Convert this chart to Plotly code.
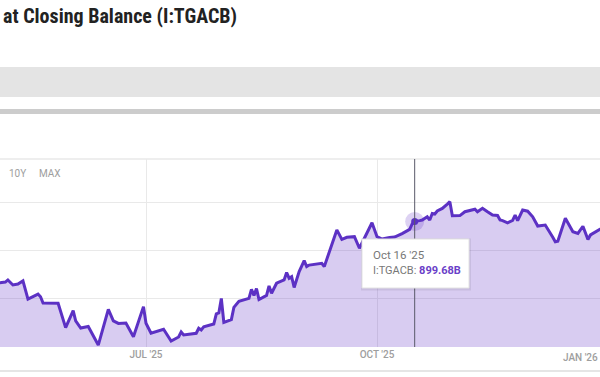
import plotly.graph_objects as go

dates = [
    "2025-05-03", "2025-05-06", "2025-05-07", "2025-05-09", "2025-05-11", "2025-05-13",
    "2025-05-15", "2025-05-19", "2025-05-20", "2025-05-21", "2025-05-27", "2025-05-30",
    "2025-06-02", "2025-06-03", "2025-06-05", "2025-06-08", "2025-06-12", "2025-06-16",
    "2025-06-18", "2025-06-20", "2025-06-23", "2025-06-26", "2025-06-30", "2025-07-01",
    "2025-07-03", "2025-07-08", "2025-07-11", "2025-07-14", "2025-07-15", "2025-07-16",
    "2025-07-21", "2025-07-22", "2025-07-23", "2025-07-24", "2025-07-28", "2025-07-29",
    "2025-07-30", "2025-07-31", "2025-08-01", "2025-08-04", "2025-08-05", "2025-08-07",
    "2025-08-11", "2025-08-12", "2025-08-13", "2025-08-14", "2025-08-15", "2025-08-18",
    "2025-08-19", "2025-08-20", "2025-08-22", "2025-08-25", "2025-08-26", "2025-08-27",
    "2025-08-28", "2025-08-29", "2025-08-31", "2025-09-02", "2025-09-03", "2025-09-04",
    "2025-09-09", "2025-09-10", "2025-09-15", "2025-09-17", "2025-09-19", "2025-09-22",
    "2025-09-24", "2025-09-29", "2025-10-01", "2025-10-03", "2025-10-06", "2025-10-08",
    "2025-10-11", "2025-10-14", "2025-10-15", "2025-10-16", "2025-10-18", "2025-10-19",
    "2025-10-21", "2025-10-22", "2025-10-23", "2025-10-24", "2025-10-25", "2025-10-27",
    "2025-10-29", "2025-10-30", "2025-10-31", "2025-11-03", "2025-11-05", "2025-11-07",
    "2025-11-09", "2025-11-10", "2025-11-12", "2025-11-14", "2025-11-16", "2025-11-18",
    "2025-11-19", "2025-11-20", "2025-11-22", "2025-11-24", "2025-11-25", "2025-11-26",
    "2025-11-28", "2025-11-30", "2025-12-02", "2025-12-04", "2025-12-07", "2025-12-10",
    "2025-12-11", "2025-12-12", "2025-12-15", "2025-12-18", "2025-12-20", "2025-12-22",
    "2025-12-24", "2025-12-25", "2025-12-29", "2025-12-31",
]
balance_b = [
    581, 586, 597, 571, 576, 592,
    498, 524, 510, 478, 476, 350,
    438, 385, 348, 356, 260, 445,
    385, 372, 374, 303, 459, 373,
    321, 342, 281, 302, 328, 312,
    321, 347, 338, 354, 369, 421,
    426, 501, 377, 392, 455, 486,
    502, 548, 517, 553, 496, 517,
    566, 528, 580, 597, 635, 606,
    614, 558, 640, 697, 666, 674,
    683, 666, 856, 807, 818, 821,
    761, 893, 821, 809, 817, 819,
    837, 859, 887, 899.68, 904, 907,
    924, 907, 941, 938, 954, 967,
    990, 1002, 929, 930, 950, 957,
    963, 950, 968, 950, 933, 931,
    907, 904, 893, 905, 933, 904,
    959, 953, 924, 876, 881, 818,
    795, 798, 916, 847, 838, 875,
    806, 830, 859, 876,
]
tick_dates = ["2025-07-01", "2025-10-01"]
tick_labels = ["JUL '25", "OCT '25"]
next_tick_label = "JAN '26"
hover_date = "2025-10-16"
hover_label = "Oct 16 '25"
series_name = "I:TGACB"
title_text = "at Closing Balance (I:TGACB)"
range_buttons = ["10Y", "MAX"]

LINE = "#5c31c4"
FILL = "rgba(98,52,200,0.25)"
GRID = "#e9e9e9"
H = 377
T, B = 159, 30
PH = H - T - B


def py(p):
    return (H - B - p) / PH


hv = balance_b[dates.index(hover_date)]

fig = go.Figure()
fig.add_trace(go.Scatter(
    x=dates, y=balance_b, mode="lines",
    line=dict(color=LINE, width=3),
    fill="tozeroy", fillcolor=FILL, hoverinfo="skip",
))
fig.add_trace(go.Scatter(
    x=[hover_date], y=[hv], mode="markers",
    marker=dict(size=19, color="rgba(98,52,200,0.22)"), hoverinfo="skip",
))
fig.add_trace(go.Scatter(
    x=[hover_date], y=[hv], mode="markers",
    marker=dict(size=7, color=LINE), hoverinfo="skip",
))

shapes = [
    dict(type="rect", xref="paper", yref="paper", x0=0, x1=1, y0=py(97), y1=py(67),
         fillcolor="#e4e4e4", line=dict(width=0), layer="below"),
    dict(type="rect", xref="paper", yref="paper", x0=0, x1=1, y0=py(114), y1=py(109),
         fillcolor="#cccccc", line=dict(width=0), layer="below"),
    dict(type="line", xref="paper", yref="paper", x0=0, x1=1, y0=1, y1=1,
         line=dict(color=GRID, width=1.5), layer="below"),
    dict(type="line", xref="paper", yref="paper", x0=0, x1=1, y0=py(371), y1=py(371),
         line=dict(color="#dddddd", width=1.5)),
    dict(type="line", xref="x", yref="paper", x0=hover_date, x1=hover_date, y0=0, y1=1,
         line=dict(color="#5a5a6a", width=1)),
    # tooltip shadow + box
    dict(type="rect", xref="paper", yref="paper", x0=361 / 600, x1=471 / 600,
         y0=py(290.5), y1=py(238.5), fillcolor="rgba(0,0,0,0.07)", line=dict(width=0)),
    dict(type="rect", xref="paper", yref="paper", x0=362 / 600, x1=469 / 600,
         y0=py(288), y1=py(239), fillcolor="white", line=dict(color="#e2e2e2", width=1)),
]

annotations = [
    dict(text=f"<b>{title_text}</b>", xref="paper", yref="paper", x=1 / 600, y=py(16),
         xanchor="left", yanchor="middle", showarrow=False,
         font=dict(family="Roboto Condensed, Liberation Sans Narrow, DejaVu Sans Condensed, Roboto",
                   size=20, color="#222222")),
    dict(text=range_buttons[0], xref="paper", yref="paper", x=17 / 600, y=py(173),
         xanchor="center", yanchor="middle", showarrow=False,
         font=dict(family="Roboto", size=10, color="#9e9e9e")),
    dict(text=range_buttons[1], xref="paper", yref="paper", x=50 / 600, y=py(173),
         xanchor="center", yanchor="middle", showarrow=False,
         font=dict(family="Roboto", size=10, color="#9e9e9e")),
    dict(text=next_tick_label, xref="paper", yref="paper", x=1, y=py(357.5),
         xanchor="right", yanchor="middle", showarrow=False,
         font=dict(family="Roboto", size=10, color="#9e9e9e", weight=500)),
    dict(text=hover_label, xref="paper", yref="paper", x=371 / 600, y=py(255),
         xanchor="left", yanchor="middle", showarrow=False,
         font=dict(family="Roboto", size=11.5, color="#777777")),
    dict(text=f"{series_name}: <span style='color:#6a40c8'><b>{hv:.2f}B</b></span>",
         xref="paper", yref="paper", x=371 / 600, y=py(270),
         xanchor="left", yanchor="middle", showarrow=False,
         font=dict(family="Roboto", size=11, color="#777777")),
]

fig.update_layout(
    width=600, height=H,
    margin=dict(l=0, r=0, t=T, b=B),
    paper_bgcolor="white", plot_bgcolor="white",
    showlegend=False, hovermode=False,
    shapes=shapes, annotations=annotations,
    xaxis=dict(
        type="date", range=["2025-05-03 20:38", "2025-12-28 19:12"],
        tickvals=tick_dates, ticktext=tick_labels,
        showgrid=True, gridcolor=GRID, gridwidth=1.2,
        zeroline=False, showline=False, ticks="",
        tickfont=dict(family="Roboto", size=10, color="#9e9e9e", weight=500),
    ),
    yaxis=dict(
        range=[250, 1223], tickvals=[250, 500, 750, 1000],
        showgrid=True, gridcolor=GRID, gridwidth=1.2,
        showticklabels=False, zeroline=False, showline=False, ticks="",
    ),
)

fig.write_html("out.html")
